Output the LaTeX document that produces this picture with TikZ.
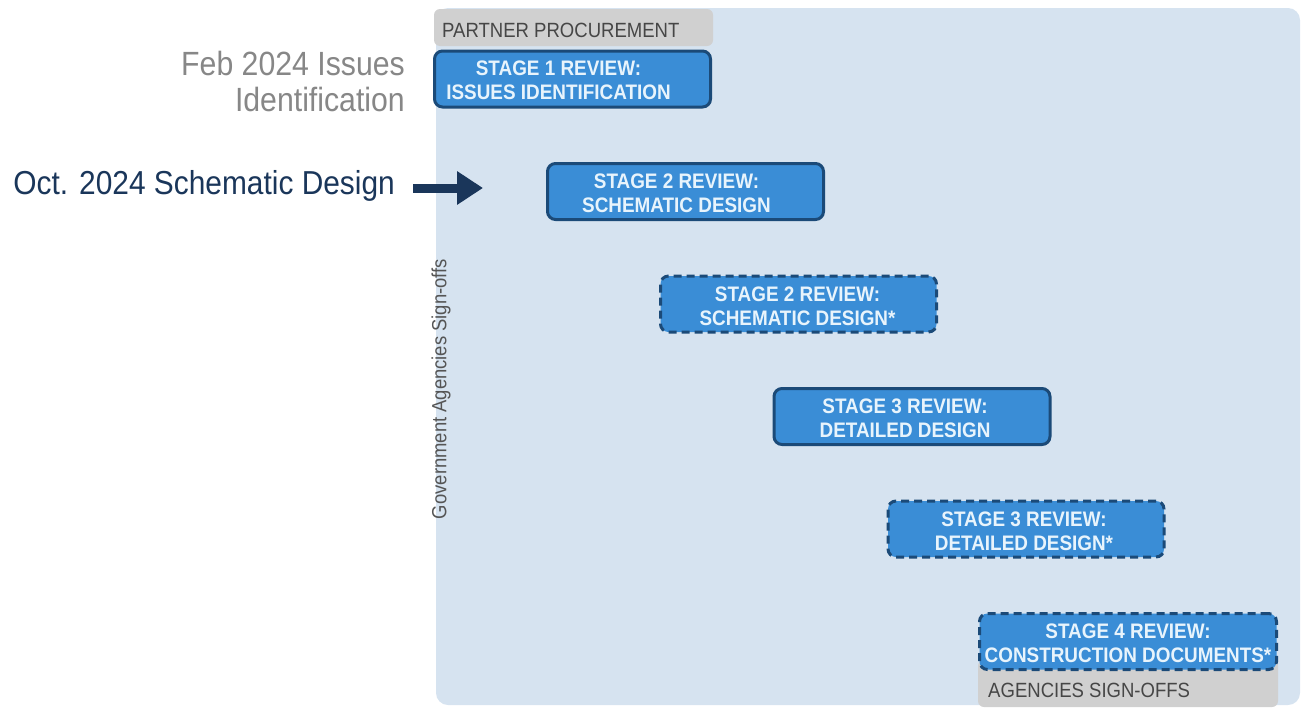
\documentclass[tikz,border=0pt]{standalone}
\usepackage{fontspec}
\setmainfont[FakeStretch=0.9]{Liberation Sans}
\usetikzlibrary{arrows.meta}

\definecolor{panelblue}{HTML}{D6E3F0}
\definecolor{tabgray}{HTML}{D0D0D0}
\definecolor{tabtext}{HTML}{464646}
\definecolor{stagefill}{HTML}{3A8DD6}
\definecolor{stageedge}{HTML}{1B4A78}
\definecolor{stagetext}{HTML}{E8F4FC}
\definecolor{notegray}{HTML}{878787}
\definecolor{navy}{HTML}{1A365A}
\definecolor{sidegray}{HTML}{555555}

\tikzset{
  stagebox/.style={draw=stageedge, fill=stagefill, line width=3pt,
    rounded corners=8pt, minimum width=276pt, minimum height=56pt, inner sep=0pt},
  pendingbox/.style={stagebox, dash pattern=on 8pt off 5pt},
  stagelabel/.style={text=stagetext, align=center, inner sep=0pt,
    font=\fontsize{21}{24}\selectfont\bfseries},
  tab/.style={fill=tabgray, rounded corners=6pt, inner sep=0pt},
  tablabel/.style={text=tabtext, inner sep=0pt, font=\fontsize{20.6}{22}\selectfont},
}

\begin{document}
\begin{tikzpicture}[x=1pt, y=-1pt]
\useasboundingbox (0,0) rectangle (1303,707);

% background panel
\path[fill=panelblue, rounded corners=12pt] (436,8) rectangle (1300,705);

% grey tabs at the start and end of the sequence
\path[tab] (434,9) rectangle (713,46);
\node[tablabel, anchor=base west] (partner) at (442,37) {PARTNER PROCUREMENT};
\path[tab] (978,660) rectangle (1278,707);
\node[tablabel, anchor=base west] (agencies) at (988,697) {AGENCIES SIGN-OFFS};

% vertical side label
\node[rotate=90, text=sidegray, inner sep=0pt, font=\fontsize{20.5}{22}\selectfont] (gov) at (441,389)
  {Government Agencies Sign-offs};

% review stages
\node[stagebox] (s1) at (572.5,79) {};
\node[stagelabel] (s1t) at ([shift={(-14,1)}]s1.center) {STAGE 1 REVIEW:\\ISSUES IDENTIFICATION};

\node[stagebox] (s2) at (685.5,191.5) {};
\node[stagelabel] (s2t) at ([shift={(-9,2)}]s2.center) {STAGE 2 REVIEW:\\SCHEMATIC DESIGN};

\node[pendingbox] (s2b) at (798.5,304) {};
\node[stagelabel] (s2bt) at ([shift={(-1,2)}]s2b.center) {STAGE 2 REVIEW:\\SCHEMATIC DESIGN*};

\node[stagebox] (s3) at (912,416.5) {};
\node[stagelabel] (s3t) at ([shift={(-7,2)}]s3.center) {STAGE 3 REVIEW:\\DETAILED DESIGN};

\node[pendingbox] (s3b) at (1026,529) {};
\node[stagelabel] (s3bt) at ([shift={(-2,2)}]s3b.center) {STAGE 3 REVIEW:\\DETAILED DESIGN*};

\node[pendingbox, minimum width=297pt] (s4) at (1128,641.5) {};
\node[stagelabel] (s4t) at ([shift={(0,2)}]s4.center) {STAGE 4 REVIEW:\\CONSTRUCTION DOCUMENTS*};

% milestone notes on the left
\node[text=notegray, align=right, anchor=north east, inner sep=0pt,
  font=\fontsize{33.6}{36}\selectfont] (feb) at (405,51) {Feb 2024 Issues\\Identification};

\node[text=navy, anchor=east, inner sep=0pt, font=\fontsize{33.2}{36}\selectfont] (oct) at (395,186)
  {Oct. 2024 Schematic Design};
\coordinate (octtip) at (483,188);
\draw[navy, line width=9pt, -{Triangle[length=26pt, width=32pt]}] ([shift={(18,2)}]oct.east) -- (octtip);
\end{tikzpicture}
\end{document}
